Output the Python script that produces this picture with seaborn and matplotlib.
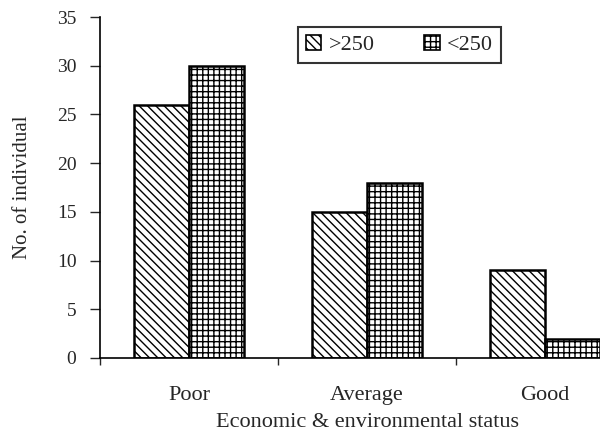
import matplotlib
matplotlib.use("Agg")
import matplotlib.pyplot as plt
import seaborn as sns
import pandas as pd
from matplotlib.patches import Patch
from matplotlib.ticker import FixedLocator

categories = ["Poor", "Average", "Good"]
groups = [">250", "<250"]
gt250 = [26, 15, 9]
lt250 = [30, 18, 2]
yticks = [0, 5, 10, 15, 20, 25, 30, 35]

df = pd.DataFrame({
    "status": categories * 2,
    "count": gt250 + lt250,
    "group": [groups[0]] * 3 + [groups[1]] * 3,
})

sns.set_style("white")
plt.rcParams["font.family"] = ["Liberation Serif", "DejaVu Serif"]
plt.rcParams["hatch.linewidth"] = 1.0

fig = plt.figure(figsize=(6, 4.32), dpi=100)
ax_w = 534 / 600
ax = fig.add_axes([100 / 600, 1 - 358 / 432, ax_w, (358 - 17) / 432])

sns.barplot(data=df, x="status", y="count", hue="group", order=categories,
            hue_order=groups, palette=["white", "white"], width=0.62,
            edgecolor="black", linewidth=1.8, legend=False, ax=ax)

hatches = {groups[0]: "\\\\\\\\", groups[1]: "+++"}
for container, g in zip(ax.containers, groups):
    for bar in container:
        bar.set_hatch(hatches[g])
        bar.set_edgecolor("black")

ax.set_xlim(-0.5, 2.5)
ax.set_ylim(0, 35)
ax.set_yticks(yticks)
ax.set_yticklabels([str(v) for v in yticks], fontsize=14)
ax.tick_params(axis="y", direction="out", length=7, width=1, left=True, pad=10)
ax.tick_params(axis="x", which="major", length=0, pad=20, labelsize=16)
ax.xaxis.set_minor_locator(FixedLocator([-0.5, 0.5, 1.5]))
ax.tick_params(axis="x", which="minor", direction="out", length=5, width=1, bottom=True)

for s in ["top", "right"]:
    ax.spines[s].set_visible(False)
for s in ["left", "bottom"]:
    ax.spines[s].set_color("black")
    ax.spines[s].set_linewidth(1.2)

ax.set_ylabel("No. of individual", fontsize=15, labelpad=18)
ax.set_xlabel("Economic & environmental status", fontsize=16, labelpad=6)

handles = [Patch(facecolor="white", edgecolor="black", hatch=hatches[g], linewidth=1.2) for g in groups]
leg = ax.legend(handles, groups, loc="upper left",
                bbox_to_anchor=((298 - 100) / 534, 1 - (27 - 17) / 341), ncol=2,
                frameon=True, fancybox=False, edgecolor="black", fontsize=16,
                handlelength=0.7, handleheight=0.7, handletextpad=0.35, columnspacing=2.2,
                borderpad=0.35, borderaxespad=0)
leg.get_frame().set_linewidth(1.5)

fig.savefig("out.png", dpi=100)
